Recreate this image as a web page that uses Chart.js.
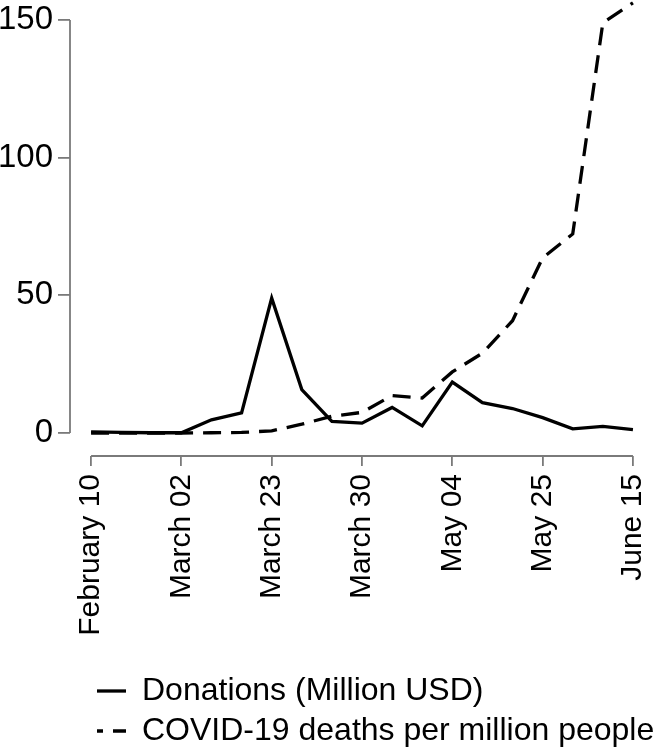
<!DOCTYPE html>
<html>
<head>
<meta charset="utf-8">
<script src="https://cdn.jsdelivr.net/npm/chart.js@4.4.1/dist/chart.umd.min.js"></script>
<style>
  html, body { margin: 0; padding: 0; background: #fff; }
  #wrap { width: 661px; height: 752px; }
</style>
</head>
<body>
<div id="wrap"><canvas id="chart" width="661" height="752"></canvas></div>
<script>
// Weekly values, one entry per week
const donations = [0.4, 0.2, 0.1, 0.1, 4.8, 7.3, 49.0, 15.8, 4.2, 3.6, 9.3, 2.6, 18.5, 11.0, 8.9, 5.6, 1.5, 2.4, 1.2];
const deaths = [0, 0, 0, 0, 0.1, 0.2, 0.8, 3.2, 6.1, 7.5, 13.6, 12.7, 22.2, 29.0, 40.8, 63.6, 72.3, 149.0, 156.3];

// Tick labels (one every 3 weeks) and y ticks
const tickLabels = ['February 10', 'March 02', 'March 23', 'March 30', 'May 04', 'May 25', 'June 15'];
const weeksPerTick = 3;
const yTicks = [0, 50, 100, 150];

const seriesNames = ['Donations (Million USD)', 'COVID-19 deaths per million people'];

const axisColor = '#7a7a7a';
const fontFamily = '"Liberation Sans", Arial, Helvetica, sans-serif';

// R-style axis lines: only from first to last tick
const axisLines = {
  id: 'axisLines',
  afterLayout(chart) {
    // indent the legend like the original, let it run to the right edge
    chart.legend.left = 89;
    chart.legend.right = chart.width;
    chart.legend.top += 5;
  },
  beforeDatasetsDraw(chart) {
    const ctx = chart.ctx;
    const x = chart.scales.x;
    const y = chart.scales.y;
    const area = chart.chartArea;
    ctx.save();
    ctx.strokeStyle = axisColor;
    ctx.lineWidth = 1.8;
    ctx.beginPath();
    ctx.moveTo(area.left, y.getPixelForValue(yTicks[0]));
    ctx.lineTo(area.left, y.getPixelForValue(yTicks[yTicks.length - 1]));
    ctx.moveTo(x.getPixelForValue(0), area.bottom);
    ctx.lineTo(x.getPixelForValue((tickLabels.length - 1) * weeksPerTick), area.bottom);
    ctx.stroke();
    ctx.restore();
  }
};

function toPoints(values) {
  return values.map((v, i) => ({ x: i, y: v }));
}

const ctx = document.getElementById('chart').getContext('2d');

new Chart(ctx, {
  type: 'line',
  data: {
    datasets: [
      {
        label: seriesNames[0],
        data: toPoints(donations),
        borderColor: '#000',
        borderWidth: 3.3,
        pointRadius: 0,
        tension: 0,
        clip: false
      },
      {
        label: seriesNames[1],
        data: toPoints(deaths),
        borderColor: '#000',
        borderWidth: 3.3,
        borderDash: [18, 10],
        pointRadius: 0,
        tension: 0,
        clip: false
      }
    ]
  },
  options: {
    responsive: false,
    animation: false,
    layout: {
      padding: { left: 0, right: 10, top: 0, bottom: 0 }
    },
    plugins: {
      title: { display: false },
      tooltip: { enabled: false },
      legend: {
        position: 'bottom',
        align: 'start',
        labels: {
          color: '#000',
          font: { family: fontFamily, size: 32 },
          padding: 8,
          usePointStyle: true,
          pointStyleWidth: 29,
          generateLabels: function(chart) {
            return chart.data.datasets.map((ds, i) => ({
              text: ds.label,
              fillStyle: '#000',
              strokeStyle: '#000',
              lineWidth: 3.3,
              lineDash: ds.borderDash || [],
              lineDashOffset: ds.borderDash ? 12 : 0,
              pointStyle: 'line',
              datasetIndex: i
            }));
          }
        }
      }
    },
    scales: {
      x: {
        type: 'linear',
        min: -0.7,
        max: 18.6,
        border: { display: false },
        grid: {
          drawOnChartArea: false,
          drawTicks: true,
          tickLength: 10,
          color: axisColor,
          lineWidth: 1.8
        },
        afterBuildTicks: function(scale) {
          scale.ticks = tickLabels.map((t, i) => ({ value: i * weeksPerTick }));
        },
        afterFit: function(scale) {
          scale.height = 206;
          scale.paddingLeft = 0;
          scale.paddingRight = 0;
        },
        ticks: {
          autoSkip: false,
          minRotation: 90,
          maxRotation: 90,
          padding: 8,
          color: '#000',
          font: { family: fontFamily, size: 30 },
          callback: function(value, index) {
            return tickLabels[index];
          }
        }
      },
      y: {
        min: -8.35,
        max: 157.3,
        border: { display: false },
        grid: {
          drawOnChartArea: false,
          drawTicks: true,
          tickLength: 12,
          color: axisColor,
          lineWidth: 1.8
        },
        afterBuildTicks: function(scale) {
          scale.ticks = yTicks.map(v => ({ value: v }));
        },
        afterFit: function(scale) {
          scale.width = 70;
          scale.paddingTop = 0;
          scale.paddingBottom = 0;
        },
        ticks: {
          padding: 5,
          color: '#000',
          font: { family: fontFamily, size: 33 }
        }
      }
    }
  },
  plugins: [axisLines]
});
</script>
</body>
</html>
